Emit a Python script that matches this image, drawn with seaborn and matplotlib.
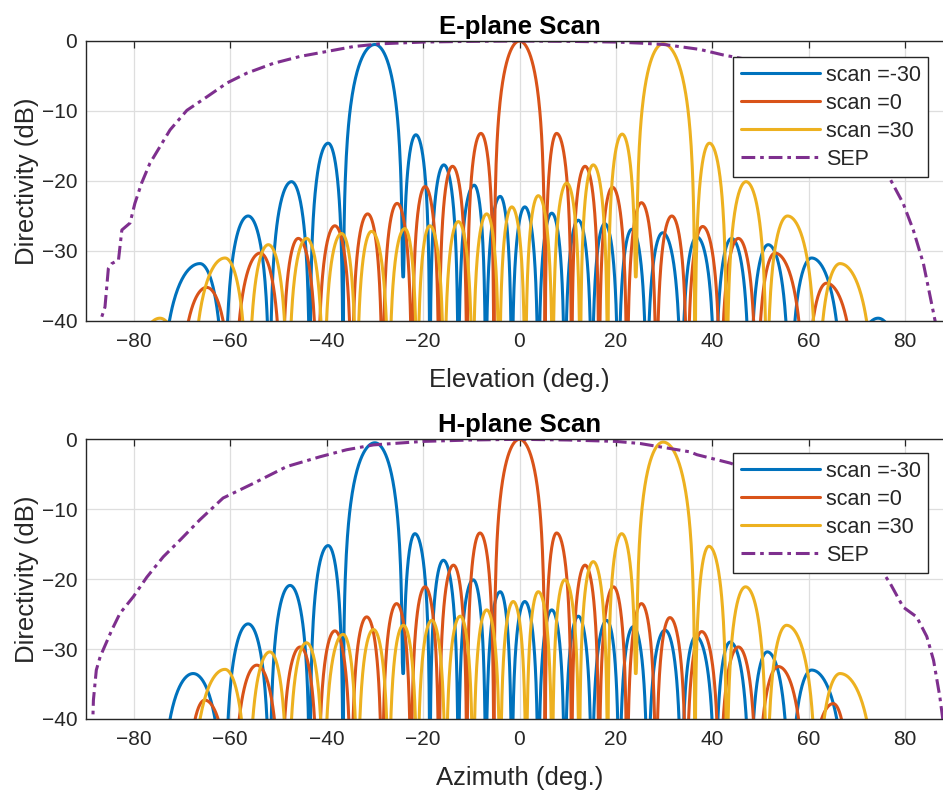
import numpy as np
import pandas as pd
import matplotlib
matplotlib.use("Agg")
import matplotlib.pyplot as plt
import seaborn as sns

# ---------------- data ----------------
series_names = ["scan =-30", "scan =0", "scan =30"]
colors = ["#0072BD", "#D95319", "#EDB120"]
sep_color = "#7E2F8E"

# E-plane (top) : null angles, lobe peak angles, lobe peak levels (dB)
e_blue_nulls = [-82.0, -74.8, -61.1, -51.8, -43.5, -36.6, -24.2, -18.6, -12.7, -7.0, -1.6, 3.9, 9.4,
                15.0, 20.5, 26.4, 33.6, 40.6, 47.8, 56.1, 67.3, 81.0]
e_blue_px = [-78.0, -66.3, -56.3, -47.3, -39.7, -30.0, -21.5, -15.7, -9.4, -4.0, 1.1, 6.7, 12.2,
             17.7, 23.3, 29.7, 36.8, 44.0, 51.6, 60.6, 74.4]
e_blue_db = [-45.0, -31.8, -25.0, -20.1, -14.6, -0.5, -13.4, -17.7, -20.6, -22.2, -23.7, -24.6, -25.6,
             -26.1, -26.9, -27.4, -28.0, -28.2, -29.1, -31.0, -39.6]
e_blue_shallow = {6: -33.7}

e_red_nulls = [-71.1, -59.3, -49.3, -41.9, -34.8, -28.4, -22.3, -16.7, -10.9, -5.3, 5.3, 10.8, 16.5,
               22.3, 28.4, 34.8, 41.7, 49.2, 59.3, 70.3]
e_red_px = [-64.9, -53.8, -45.9, -38.3, -31.5, -25.4, -19.6, -13.9, -8.0, 0.0, 7.7, 13.6, 19.3,
            25.3, 31.6, 38.0, 45.4, 53.0, 63.7]
e_red_db = [-35.2, -30.3, -28.2, -26.4, -24.7, -23.2, -20.8, -17.9, -13.2, 0.0, -13.2, -17.9, -20.9,
            -23.1, -25.0, -26.5, -28.2, -30.3, -34.6]
e_red_shallow = {}

e_yel_nulls = [-82.0, -68.2, -56.3, -48.0, -40.6, -33.8, -27.1, -21.2, -15.6, -9.7, -4.2, 1.2, 6.9,
               12.6, 18.3, 24.2, 36.4, 43.0, 51.3, 61.7, 73.9]
e_yel_px = [-74.6, -61.1, -52.1, -44.2, -36.9, -30.7, -23.8, -18.6, -12.7, -6.8, -1.6, 3.9, 9.8,
            15.3, 21.3, 29.8, 39.4, 47.0, 55.6, 66.5]
e_yel_db = [-39.6, -31.0, -29.1, -28.2, -27.5, -27.2, -26.8, -26.4, -25.8, -24.7, -23.7, -22.1, -20.3,
            -17.7, -13.3, -0.4, -14.6, -20.1, -25.0, -31.8]
e_yel_shallow = {15: -33.7}

# H-plane (bottom)
h_blue_nulls = [-74.7, -61.1, -51.8, -43.5, -36.6, -24.2, -18.6, -12.7, -7.0, -1.6, 3.9, 9.4,
                15.0, 20.7, 26.6, 33.6, 40.6, 47.8, 56.1, 68.0]
h_blue_px = [-67.7, -56.3, -47.6, -39.7, -30.0, -21.7, -15.8, -9.6, -4.0, 1.1, 6.7, 12.2,
             18.1, 23.6, 30.2, 36.6, 43.7, 51.4, 60.6]
h_blue_db = [-33.5, -26.4, -20.9, -15.2, -0.5, -13.5, -17.3, -20.1, -21.8, -23.2, -24.4, -25.3,
             -25.9, -26.8, -27.3, -28.2, -29.0, -30.4, -33.0]
h_blue_shallow = {5: -33.5}

h_red_nulls = [-69.5, -59.5, -49.5, -41.8, -34.9, -28.5, -22.5, -16.7, -10.9, -5.3, 5.3, 10.8, 16.5,
               22.3, 28.3, 34.6, 41.5, 49.3, 59.5, 69.0]
h_red_px = [-65.3, -54.5, -45.5, -38.3, -31.7, -25.5, -19.6, -13.7, -8.2, 0.0, 7.7, 13.6, 19.5,
            25.3, 31.2, 37.8, 45.4, 53.7, 65.1]
h_red_db = [-37.3, -32.3, -29.7, -27.4, -25.4, -23.5, -21.1, -18.0, -13.4, 0.0, -13.4, -18.0, -21.1,
            -23.5, -25.5, -27.5, -29.7, -32.5, -37.8]
h_red_shallow = {}

h_yel_nulls = [-68.4, -56.3, -48.0, -40.6, -33.6, -27.1, -21.2, -15.3, -9.6, -4.0, 1.4, 6.8, 12.4,
               18.3, 24.2, 36.4, 43.0, 51.3, 61.7, 74.5]
h_yel_px = [-61.1, -51.8, -44.2, -36.6, -30.3, -24.1, -18.2, -12.3, -6.8, -1.3, 3.9, 9.4, 15.3,
            21.2, 29.8, 39.3, 46.9, 55.4, 66.5]
h_yel_db = [-32.9, -30.4, -29.1, -27.9, -27.2, -26.6, -25.9, -25.3, -24.4, -23.2, -21.8, -20.1, -17.5,
            -13.5, -0.4, -15.3, -21.1, -26.6, -33.5]
h_yel_shallow = {14: -33.5}

# SEP (element pattern) points
e_sep_x = [-87.4, -86.9, -86.0, -85.3, -84.6, -83.2, -82.5, -80.8, -79.8, -78.4, -76.7, -74.6, -72.5,
           -69.0, -64.9, -60.7, -56.6, -51.1, -45.5, -40.0, -34.5, -28.9, -20.0, -10.0, 0.0, 10.0,
           20.0, 25.0, 30.0, 37.4, 42.3, 50.0, 57.0, 62.0, 67.0, 72.0, 76.8, 79.6, 81.7, 83.8,
           85.2, 86.2, 86.8]
e_sep_y = [-42.0, -39.9, -38.0, -32.5, -31.8, -31.3, -27.0, -26.0, -23.2, -20.3, -17.5, -15.1, -12.7,
           -9.9, -8.0, -6.0, -4.6, -3.2, -2.2, -1.5, -0.8, -0.4, -0.15, -0.05, 0.0, -0.05,
           -0.15, -0.3, -0.5, -1.2, -2.0, -3.0, -4.6, -6.3, -8.5, -12.5, -19.6, -23.2, -27.0, -31.8,
           -36.5, -39.9, -42.0]
h_sep_x = [-88.6, -88.4, -87.8, -87.0, -84.6, -82.9, -80.1, -77.3, -73.9, -70.4, -66.3, -61.5, -55.2,
           -48.3, -41.4, -35.9, -30.3, -20.0, -10.0, 0.0, 10.0, 20.0, 25.0, 35.4, 36.8, 43.7, 50.0,
           56.0, 62.0, 67.0, 72.0, 76.9, 79.6, 82.4, 84.5, 85.9, 87.2, 88.2]
h_sep_y = [-42.0, -37.3, -33.0, -31.1, -27.3, -24.9, -22.5, -19.7, -16.8, -14.4, -11.5, -8.4, -6.3,
           -3.9, -2.5, -1.5, -0.8, -0.3, -0.1, 0.0, -0.1, -0.3, -0.6, -1.8, -2.2, -3.4, -5.0,
           -7.0, -9.0, -12.0, -15.5, -20.6, -24.0, -25.4, -28.2, -31.6, -36.8, -42.0]

x_ticks = [-80, -60, -40, -20, 0, 20, 40, 60, 80]
y_ticks = [-40, -30, -20, -10, 0]


# ---------------- helpers ----------------
def lobes(nulls, px, pdb, shallow, n=60):
    xs, ys = [], []
    s = np.linspace(0.0, 1.0, n)
    shape = 20 * np.log10(np.clip(np.sin(np.pi / 2 * s), 1e-4, None))
    for i in range(len(px)):
        a, b, p, P = nulls[i], nulls[i + 1], px[i], pdb[i]
        dl = shallow.get(i, -80.0)
        dr = shallow.get(i + 1, -80.0)
        xl = a + (p - a) * s
        yl = np.maximum(P + shape, dl)
        xr = p + (b - p) * s
        yr = np.maximum(P + shape[::-1], dr)
        xs.extend(xl[:-1]); ys.extend(yl[:-1])
        xs.extend(xr); ys.extend(yr)
    return np.array(xs), np.array(ys)


def make_df(groups):
    frames = []
    for name, (nl, px, db, sh) in zip(series_names, groups):
        x, y = lobes(nl, px, db, sh)
        frames.append(pd.DataFrame({"angle": x, "dB": np.maximum(y, -60), "series": name}))
    return pd.concat(frames, ignore_index=True)


sns.set_theme(style="white")
plt.rcParams["font.family"] = ["Liberation Sans", "DejaVu Sans"]

fig = plt.figure(figsize=(9.43, 7.95), dpi=100)
W, H = 943.0, 795.0
ax_left = 85.7 / W
ax_w = (953.3 - 85.7) / W

panels = [
    dict(rect=[ax_left, 1 - 321 / H, ax_w, 280 / H], title="E-plane Scan", xlabel="Elevation (deg.)",
         groups=[(e_blue_nulls, e_blue_px, e_blue_db, e_blue_shallow),
                 (e_red_nulls, e_red_px, e_red_db, e_red_shallow),
                 (e_yel_nulls, e_yel_px, e_yel_db, e_yel_shallow)],
         sep=(e_sep_x, e_sep_y), leg=(733 / W, 1 - 57 / H)),
    dict(rect=[ax_left, 1 - 719 / H, ax_w, 279.7 / H], title="H-plane Scan", xlabel="Azimuth (deg.)",
         groups=[(h_blue_nulls, h_blue_px, h_blue_db, h_blue_shallow),
                 (h_red_nulls, h_red_px, h_red_db, h_red_shallow),
                 (h_yel_nulls, h_yel_px, h_yel_db, h_yel_shallow)],
         sep=(h_sep_x, h_sep_y), leg=(733 / W, 1 - 453 / H)),
]

txt = "#262626"
for pnl in panels:
    ax = fig.add_axes(pnl["rect"])
    df = make_df(pnl["groups"])
    sns.lineplot(data=df, x="angle", y="dB", hue="series", palette=colors, sort=False,
                 estimator=None, linewidth=2.2, legend=False, ax=ax)
    sx, sy = pnl["sep"]
    sns.lineplot(x=sx, y=sy, color=sep_color, sort=False, estimator=None, linewidth=2.2,
                 legend=False, ax=ax)
    ax.lines[-1].set_linestyle((0, (4.5, 1.6, 1.2, 1.6)))
    ax.set_xlim(-90, 90)
    ax.set_ylim(-40, 0)
    ax.set_xticks(x_ticks)
    ax.set_yticks(y_ticks)
    ax.grid(True, color="#dedede", linewidth=0.9)
    ax.set_axisbelow(True)
    for sp in ax.spines.values():
        sp.set_color(txt)
        sp.set_linewidth(1.0)
    ax.tick_params(direction="in", length=5, width=0.9, colors=txt, labelsize=15,
                   top=True, right=True, pad=6)
    ax.tick_params(axis="x", pad=8)
    ax.set_xlabel(pnl["xlabel"], fontsize=18.5, color=txt, labelpad=12)
    ax.set_ylabel("Directivity (dB)", fontsize=18.5, color=txt, labelpad=2)
    ax.set_title(pnl["title"], fontsize=18.5, fontweight="bold", color="black", pad=5)
    handles = ax.lines[:4]
    leg = ax.legend(handles, series_names + ["SEP"], loc="upper left",
                    bbox_to_anchor=pnl["leg"], bbox_transform=fig.transFigure,
                    fontsize=15.5, frameon=True, fancybox=False, framealpha=1.0,
                    handlelength=3.7, handletextpad=0.25, labelspacing=0.33,
                    borderpad=0.35, borderaxespad=0.0)
    leg.get_frame().set_edgecolor(txt)
    leg.get_frame().set_linewidth(1.0)
    for t in leg.get_texts():
        t.set_color(txt)

fig.savefig("out.png", dpi=100)
